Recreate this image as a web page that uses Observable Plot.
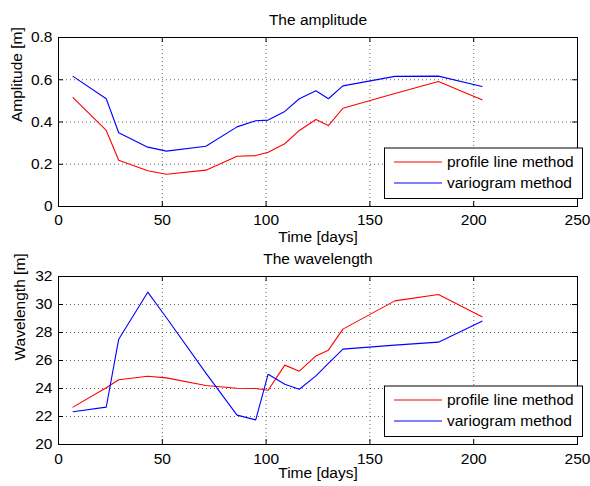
<!DOCTYPE html>
<html>
<head>
<meta charset="utf-8">
<script src="https://cdn.jsdelivr.net/npm/d3@7"></script>
<script src="https://cdn.jsdelivr.net/npm/@observablehq/plot@0.6"></script>
<style>
  html, body { margin: 0; padding: 0; background: white; }
  svg { display: block; }
</style>
</head>
<body>
<div id="chart"></div>
<script>
const days = [7, 23, 29, 43, 52, 71, 86, 95, 101, 109, 116, 124, 130, 137, 162, 183, 204];
const methods = ["profile line method", "variogram method"];

const ampProfile   = [0.515, 0.36, 0.219, 0.169, 0.153, 0.172, 0.238, 0.241, 0.257, 0.297, 0.36, 0.412, 0.383, 0.465, 0.535, 0.592, 0.505];
const ampVariogram = [0.616, 0.51, 0.349, 0.281, 0.262, 0.285, 0.377, 0.406, 0.409, 0.45, 0.51, 0.548, 0.51, 0.571, 0.616, 0.617, 0.568];

const waveProfile   = [22.67, 24.05, 24.62, 24.88, 24.76, 24.21, 24.02, 24.0, 23.88, 25.67, 25.24, 26.33, 26.74, 28.24, 30.26, 30.71, 29.12];
const waveVariogram = [22.34, 22.67, 27.52, 30.88, 29.05, 25.1, 22.1, 21.76, 25.02, 24.31, 23.95, 24.9, 25.8, 26.81, 27.1, 27.31, 28.81];

const xTicks = [0, 50, 100, 150, 200, 250];
const ampTicks = [0, 0.2, 0.4, 0.6, 0.8];
const waveTicks = [20, 22, 24, 26, 28, 30, 32];

const FONT = "'Liberation Sans', Arial, Helvetica, sans-serif";
const FS = 15.5;
const colors = ["#ff0000", "#0000ff"];

function panel(o) {
  const data = [];
  days.forEach((d, i) => data.push({day: d, value: o.profile[i], method: methods[0]}));
  days.forEach((d, i) => data.push({day: d, value: o.variogram[i], method: methods[1]}));
  const W = 590, ML = 58, MR = 13;
  const fh = o.height - o.marginTop - o.marginBottom;
  const fw = W - ML - MR;
  const tk = 5;
  const gridStyle = {stroke: "#000", strokeOpacity: 0.6, strokeDasharray: "1,3"};
  const svg = Plot.plot({
    width: W, height: o.height,
    marginLeft: ML, marginRight: MR, marginTop: o.marginTop, marginBottom: o.marginBottom,
    style: {fontFamily: FONT, fontSize: FS + "px", background: "white", color: "black", overflow: "visible"},
    x: {domain: [0, 250], label: null},
    y: {domain: [o.yTicks[0], o.yTicks[o.yTicks.length - 1]], label: null},
    color: {domain: methods, range: colors},
    marks: [
      Plot.ruleX(xTicks, {x: d => d, ...gridStyle}),
      Plot.ruleY(o.yTicks, {y: d => d, ...gridStyle}),
      Plot.line(data, {x: "day", y: "value", z: "method", stroke: "method", strokeWidth: 1.1}),
      Plot.tickX(xTicks, {x: d => d, stroke: "black", insetTop: fh - tk}),
      Plot.tickX(xTicks, {x: d => d, stroke: "black", insetBottom: fh - tk}),
      Plot.tickY(o.yTicks, {y: d => d, stroke: "black", insetRight: fw - tk}),
      Plot.tickY(o.yTicks, {y: d => d, stroke: "black", insetLeft: fw - tk}),
      Plot.frame({stroke: "black", strokeWidth: 1}),
      Plot.axisX({ticks: xTicks, tickSize: 0, tickPadding: o.xPad, tickFormat: d => String(d), fontSize: FS, label: null}),
      Plot.axisY({ticks: o.yTicks, tickSize: 0, tickPadding: 6, tickFormat: d => String(d), fontSize: FS, label: null}),
      Plot.text([o.title], {text: d => d, frameAnchor: "top", dy: -17, fontSize: FS, lineAnchor: "middle"}),
      Plot.text([o.xlabel], {text: d => d, frameAnchor: "bottom", dy: o.xlabDy, fontSize: FS, lineAnchor: "middle"}),
      Plot.text([o.ylabel], {text: d => d, frameAnchor: "left", dx: o.ylabDx, rotate: -90, fontSize: FS, lineAnchor: "middle"})
    ]
  });
  // legend box (MATLAB style) anchored at lower right of the axes
  const lx = ML + fw + 5 - 198, ly = o.height - o.marginBottom - 8 - 50.5;
  const g = d3.select(svg).append("g").attr("font-family", FONT).attr("font-size", FS).attr("text-anchor", "start");
  g.append("rect").attr("x", lx + 0.5).attr("y", ly + 0.5).attr("width", 198).attr("height", 50.5)
    .attr("fill", "white").attr("stroke", "black").attr("stroke-width", 1);
  methods.forEach((m, i) => {
    const yy = ly + 14.5 + i * 21;
    g.append("line").attr("x1", lx + 10).attr("x2", lx + 58).attr("y1", yy).attr("y2", yy)
      .attr("stroke", colors[i]).attr("stroke-width", 1.1);
    g.append("text").attr("x", lx + 63).attr("y", yy).attr("dy", "0.32em").attr("fill", "black")
      .attr("text-anchor", "start").text(m);
  });
  return svg;
}

const chart = document.getElementById("chart");
chart.appendChild(panel({
  title: "The amplitude", xlabel: "Time [days]", ylabel: "Amplitude [m]",
  profile: ampProfile, variogram: ampVariogram, yTicks: ampTicks,
  height: 243, marginTop: 37, marginBottom: 37, xPad: 7, xlabDy: 31, ylabDx: -41.5
}));
chart.appendChild(panel({
  title: "The wavelength", xlabel: "Time [days]", ylabel: "Wavelength [m]",
  profile: waveProfile, variogram: waveVariogram, yTicks: waveTicks,
  height: 243, marginTop: 33, marginBottom: 42, xPad: 8.5, xlabDy: 29, ylabDx: -38.5
}));
</script>
</body>
</html>
